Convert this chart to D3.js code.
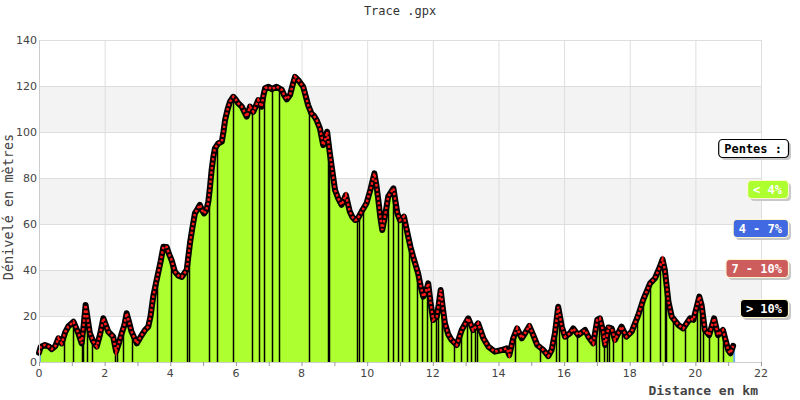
<!DOCTYPE html>
<html>
<head>
<meta charset="utf-8">
<script src="https://cdn.jsdelivr.net/npm/d3@7"></script>
<style>
body { margin: 0; background: #fff; }
svg { display: block; }
</style>
</head>
<body>
<svg id="chart" width="800" height="400"></svg>
<script>
// distance (km) and altitude (m)
var distKm = [0.00, 0.05, 0.18, 0.30, 0.39, 0.50, 0.59, 0.69, 0.80, 0.89, 1.05, 1.20, 1.30, 1.36, 1.42, 1.48, 1.55, 1.65, 1.76, 1.86,
    1.96, 2.11, 2.26, 2.35, 2.43, 2.52, 2.60, 2.67, 2.75, 2.82, 2.98, 3.10, 3.23, 3.33, 3.40, 3.48, 3.56, 3.63, 3.71, 3.79,
    3.89, 3.96, 4.04, 4.14, 4.25, 4.35, 4.45, 4.50, 4.60, 4.67, 4.75, 4.83, 4.90, 4.97, 5.03, 5.10, 5.16, 5.21, 5.26, 5.31,
    5.36, 5.46, 5.57, 5.62, 5.67, 5.75, 5.82, 5.92, 6.00, 6.07, 6.18, 6.25, 6.33, 6.43, 6.53, 6.60, 6.68, 6.78, 6.84, 6.89,
    6.99, 7.09, 7.24, 7.40, 7.47, 7.55, 7.65, 7.72, 7.80, 7.90, 8.05, 8.12, 8.20, 8.30, 8.38, 8.46, 8.56, 8.66, 8.73, 8.78,
    8.85, 8.92, 9.02, 9.12, 9.22, 9.35, 9.47, 9.55, 9.63, 9.70, 9.83, 9.98, 10.10, 10.22, 10.28, 10.34, 10.40, 10.46, 10.55, 10.64,
    10.80, 10.86, 10.92, 11.00, 11.12, 11.25, 11.32, 11.40, 11.48, 11.55, 11.63, 11.71, 11.78, 11.86, 11.93, 12.01, 12.12, 12.18, 12.24, 12.30,
    12.37, 12.47, 12.57, 12.73, 12.88, 13.08, 13.23, 13.38, 13.54, 13.69, 13.89, 14.10, 14.25, 14.33, 14.45, 14.57, 14.71, 14.81, 14.94, 15.06,
    15.18, 15.37, 15.52, 15.62, 15.72, 15.82, 15.93, 16.03, 16.18, 16.28, 16.43, 16.64, 16.74, 16.89, 17.01, 17.09, 17.18, 17.25, 17.35, 17.45,
    17.55, 17.75, 17.90, 18.06, 18.26, 18.41, 18.62, 18.77, 18.92, 19.00, 19.07, 19.18, 19.28, 19.48, 19.63, 19.84, 19.94, 20.12, 20.19, 20.29,
    20.42, 20.57, 20.69, 20.84, 21.00, 21.07, 21.15];
var altM = [4, 6.5, 7.4, 6.7, 5.6, 7, 10.3, 8.1, 13, 15.4, 17.5, 12.5, 8.1, 16, 24.8, 19, 12.5, 9, 6.7, 12,
    19, 13.2, 11, 4.5, 8, 12.5, 16, 21.2, 17, 13.2, 8.1, 11, 13.9, 15.4, 20, 28.4, 34, 38.6, 44, 50.1,
    50, 47, 44.3, 39.3, 37.5, 37, 39, 40, 51.6, 58, 64.6, 66.5, 68.3, 66, 64.6, 66, 69.7, 76, 83.5, 89,
    92.9, 95, 95.8, 100, 105.2, 110, 113.2, 115.3, 114, 112.5, 111, 109, 106.7, 111, 108.8, 111, 113.9, 111, 116, 119,
    119.7, 118.6, 119.7, 118.3, 116, 114.2, 116.1, 120, 124, 122.6, 119.7, 116, 111.7, 108.1, 107, 105.2, 101.6, 94.3, 97, 100.1,
    92, 84.9, 74.8, 71, 68.3, 72.6, 65.4, 63, 61.7, 62, 65.4, 69, 75, 82, 77, 70.4, 63, 57.4, 64, 71.9,
    75.5, 70, 64.6, 61.7, 63.2, 54.5, 50, 45.8, 42, 38.6, 33, 28.4, 30, 34.2, 26, 18.3, 19.7, 25, 31.3, 24,
    16.8, 12, 9.6, 7.4, 13.9, 19, 13.9, 16.8, 10.3, 6.7, 4.5, 5.2, 5.9, 3, 10.3, 14.6, 10.3, 12.5, 15.7, 11.7,
    7.4, 5.2, 2.6, 5.2, 12.5, 24, 15.4, 11, 12.5, 14.6, 11.7, 13.9, 11, 8.1, 18.3, 19, 14, 7.4, 15, 14.6,
    9.6, 15.4, 11, 13.2, 20.4, 27, 34.2, 36.4, 41.4, 44.6, 40, 26.2, 19.7, 16.1, 14.6, 19, 18.3, 28.4, 24.8, 13.9,
    11.7, 19, 11.7, 13.9, 5.2, 3.8, 7];

// positions (km) of the dark drop lines
var dropKm = [0.77, 1.03, 1.32, 1.35, 1.45, 1.61, 2.32, 2.39, 2.55, 2.82, 3.6, 4.01, 4.5, 4.56, 5.18, 5.43, 5.92, 6.5, 6.71, 6.86,
    7.09, 7.32, 8.24, 8.81, 8.83, 9.7, 9.76, 9.88, 10.62, 10.8, 10.95, 11.05, 11.28, 11.53, 11.66, 11.81, 11.94, 12.1, 12.15, 12.27,
    12.29, 12.65, 12.85, 13.03, 13.15, 13.28, 13.35, 14.5, 15.27, 15.75, 15.85, 16.08, 16.4, 16.97, 17.07, 17.21, 17.3, 17.38, 17.48, 17.75,
    18.21, 18.41, 18.62, 18.92, 19.07, 19.12, 19.31, 19.68, 20.04, 20.14, 20.24, 20.42, 20.7, 20.83];

var xTicks = [0, 2, 4, 6, 8, 10, 12, 14, 16, 18, 20, 22];
var yTicks = [0, 20, 40, 60, 80, 100, 120, 140];

var slopeLabels = ['< 4%', '4 - 7%', '7 - 10%', '> 10%'];
var slopeColors = ['#adff2f', '#4169e1', '#cd5c5c', '#000000'];

var svg = d3.select('#chart');
var plotL = 39, plotR = 761, plotT = 40, plotB = 362;

var x = d3.scaleLinear().domain([0, 22]).range([plotL, plotR]);
var y = d3.scaleLinear().domain([0, 140]).range([plotB, plotT]);

var pts = distKm.map(function(d, i) { return { d: d, a: altM[i] }; });

// alternating bands
var bands = [[20, 40], [60, 80], [100, 120]];
svg.selectAll('rect.band').data(bands).enter().append('rect')
    .attr('class', 'band')
    .attr('x', plotL)
    .attr('width', plotR - plotL)
    .attr('y', function(b) { return y(b[1]); })
    .attr('height', function(b) { return y(b[0]) - y(b[1]); })
    .attr('fill', '#f3f3f3');

// grid
svg.selectAll('line.hgrid').data(yTicks.slice(1)).enter().append('line')
    .attr('class', 'hgrid')
    .attr('x1', plotL).attr('x2', plotR)
    .attr('y1', function(d) { return y(d) + 0.5; })
    .attr('y2', function(d) { return y(d) + 0.5; })
    .attr('stroke', '#dedede');
svg.selectAll('line.vgrid').data(xTicks.slice(1)).enter().append('line')
    .attr('class', 'vgrid')
    .attr('x1', function(d) { return x(d) + 0.5; })
    .attr('x2', function(d) { return x(d) + 0.5; })
    .attr('y1', plotT).attr('y2', plotB)
    .attr('stroke', '#dedede');

// filled profile
var area = d3.area()
    .x(function(p) { return x(p.d); })
    .y0(plotB)
    .y1(function(p) { return y(p.a); });
svg.append('path')
    .datum(pts)
    .attr('d', area)
    .attr('fill', '#adff2f');

// drop lines
var bis = d3.bisector(function(p) { return p.d; }).left;
function altAt(k) {
    var i = bis(pts, k);
    if (i <= 0) return pts[0].a;
    if (i >= pts.length) return pts[pts.length - 1].a;
    var p0 = pts[i - 1], p1 = pts[i];
    return p0.a + (p1.a - p0.a) * (k - p0.d) / (p1.d - p0.d);
}
svg.selectAll('line.drop').data(dropKm).enter().append('line')
    .attr('class', 'drop')
    .attr('x1', function(k) { return Math.round(x(k)) + 0.5; })
    .attr('x2', function(k) { return Math.round(x(k)) + 0.5; })
    .attr('y1', function(k) { return y(altAt(k)); })
    .attr('y2', plotB)
    .attr('stroke', '#000')
    .attr('stroke-width', 1.5);

// start / end edge
svg.selectAll('line.edge').data([pts[0], pts[pts.length - 1]]).enter().append('line')
    .attr('class', 'edge')
    .attr('x1', function(p) { return x(p.d) + 1; })
    .attr('x2', function(p) { return x(p.d) + 1; })
    .attr('y1', function(p) { return y(p.a); })
    .attr('y2', plotB)
    .attr('stroke', '#6aaee0')
    .attr('stroke-width', 2);

// profile line with markers
var line = d3.line()
    .x(function(p) { return x(p.d); })
    .y(function(p) { return y(p.a); });
svg.append('path')
    .datum(pts)
    .attr('d', line)
    .attr('fill', 'none')
    .attr('stroke', '#000')
    .attr('stroke-width', 6)
    .attr('stroke-linejoin', 'round')
    .attr('stroke-linecap', 'round');
svg.append('path')
    .datum(pts)
    .attr('d', line)
    .attr('fill', 'none')
    .attr('stroke', '#ff1a1a')
    .attr('stroke-width', 2.5)
    .attr('stroke-dasharray', '2.5,2');

// axes
svg.append('line')
    .attr('x1', plotL + 0.5).attr('x2', plotL + 0.5)
    .attr('y1', plotT).attr('y2', plotB)
    .attr('stroke', '#cccccc');
svg.append('line')
    .attr('x1', plotL).attr('x2', plotR + 1)
    .attr('y1', plotB + 0.5).attr('y2', plotB + 0.5)
    .attr('stroke', '#cccccc');

svg.selectAll('line.xtick').data(d3.range(0, 23)).enter().append('line')
    .attr('class', 'xtick')
    .attr('x1', function(d) { return x(d) + 0.5; })
    .attr('x2', function(d) { return x(d) + 0.5; })
    .attr('y1', plotB)
    .attr('y2', plotB + 4)
    .attr('stroke', '#999');

svg.selectAll('text.xlab').data(xTicks).enter().append('text')
    .attr('class', 'xlab')
    .attr('x', function(d) { return x(d); })
    .attr('y', plotB + 15)
    .attr('text-anchor', 'middle')
    .style('font-family', 'DejaVu Sans')
    .style('font-size', '11px')
    .attr('fill', '#444')
    .text(function(d) { return d; });

svg.selectAll('text.ylab').data(yTicks).enter().append('text')
    .attr('class', 'ylab')
    .attr('x', plotL - 2)
    .attr('y', function(d) { return y(d) + 4; })
    .attr('text-anchor', 'end')
    .style('font-family', 'DejaVu Sans')
    .style('font-size', '11px')
    .attr('fill', '#444')
    .text(function(d) { return d; });

// titles
svg.append('text')
    .attr('x', 400).attr('y', 15)
    .attr('text-anchor', 'middle')
    .style('font-family', 'DejaVu Sans Mono')
    .style('font-size', '12px')
    .attr('fill', '#333')
    .text('Trace .gpx');

svg.append('text')
    .attr('x', 758).attr('y', 395)
    .attr('text-anchor', 'end')
    .style('font-family', 'DejaVu Sans Mono')
    .style('font-weight', 'bold')
    .style('font-size', '13px')
    .attr('fill', '#444')
    .text('Distance en km');

svg.append('text')
    .attr('transform', 'translate(13,207) rotate(-90)')
    .attr('text-anchor', 'middle')
    .style('font-family', 'DejaVu Sans Mono')
    .style('font-size', '13.5px')
    .attr('fill', '#444')
    .text('Dénivelé en mètres');

// legend
var legend = svg.append('g');
function tag(g, xr, yc, label, fill, txtColor, stroke) {
    var t = g.append('text')
        .attr('x', 0).attr('y', 0)
        .style('font-family', 'DejaVu Sans Mono')
        .style('font-weight', 'bold')
        .style('font-size', '12px')
        .text(label);
    var w = t.node().getComputedTextLength() + 12;
    var h = 18;
    g.insert('rect', 'text')
        .attr('x', xr - w + 3).attr('y', yc - h / 2 + 3)
        .attr('width', w).attr('height', h)
        .attr('rx', 4)
        .attr('fill', '#c8c8c8');
    g.insert('rect', 'text')
        .attr('x', xr - w + 0.5).attr('y', yc - h / 2 + 0.5)
        .attr('width', w).attr('height', h)
        .attr('rx', 4)
        .attr('fill', fill)
        .attr('stroke', stroke)
        .attr('stroke-width', 1.2);
    t.attr('x', xr - w / 2).attr('y', yc + 4.5)
        .attr('text-anchor', 'middle')
        .attr('fill', txtColor);
}
tag(legend.append('g'), 788, 148, 'Pentes :', '#fff', '#000', '#000');
var yc = [189, 228, 268, 308];
slopeLabels.forEach(function(l, i) {
    tag(legend.append('g'), 788, yc[i], l, slopeColors[i], '#fff', '#fdf6cf');
});
</script>
</body>
</html>
